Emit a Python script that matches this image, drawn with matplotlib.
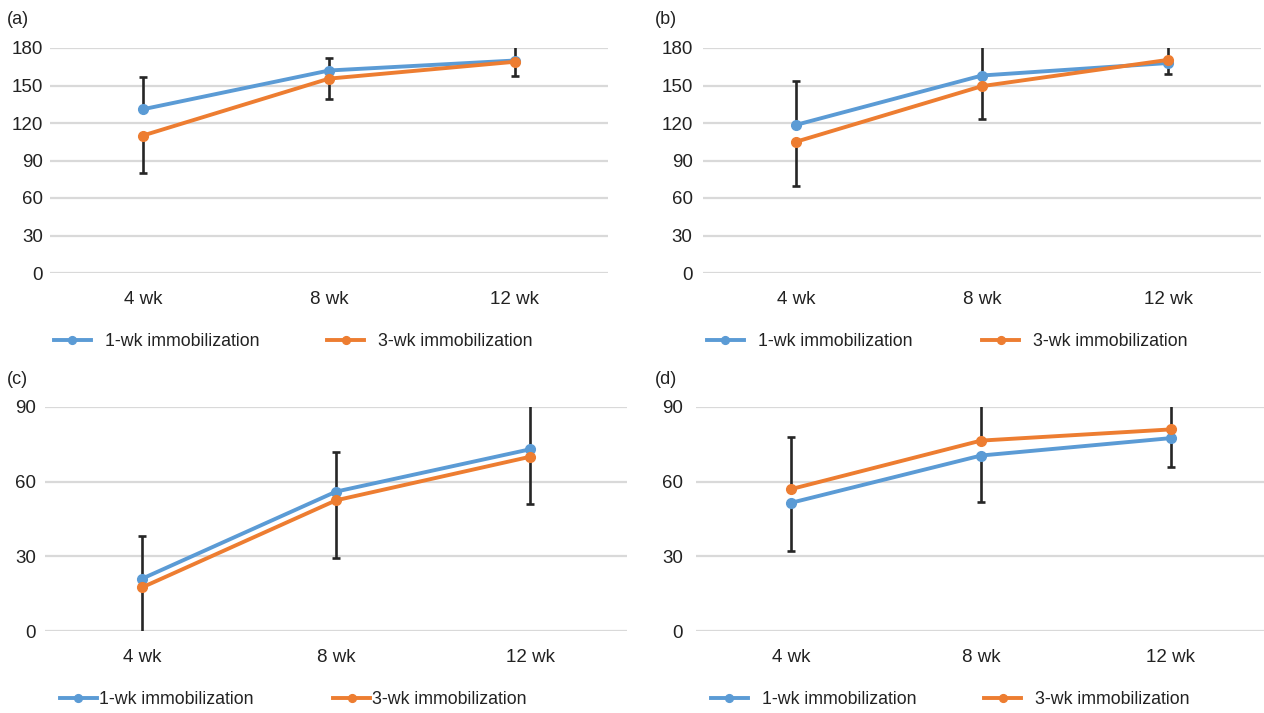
import numpy as np
import matplotlib
matplotlib.use('Agg')
import matplotlib.pyplot as plt

# 数据
weeks = ['4 wk', '8 wk', '12 wk']
series_names = ['1-wk immobilization', '3-wk immobilization']
panel_tags = ['(a)', '(b)', '(c)', '(d)']

# (a)
a_1wk = [131, 162, 170]
a_3wk = [110, 155.5, 169]
a_1wk_up = [26, 10, 12]
a_3wk_dn = [30, 16.5, 11]
# (b)
b_1wk = [118.5, 158, 168]
b_3wk = [105, 149.5, 170.5]
b_1wk_up = [35, 25, 14]
b_3wk_dn = [35, 26.5, 11.5]
# (c)
c_1wk = [21, 56, 73]
c_3wk = [17.5, 52.5, 70]
c_1wk_up = [17, 16, 20]
c_3wk_dn = [20, 23, 19]
# (d)  这里上误差在3-wk上, 下误差在1-wk上
d_1wk = [51.5, 70.5, 77.5]
d_3wk = [57, 76.5, 81]
d_3wk_up = [21, 16, 12]
d_1wk_dn = [19.5, 18.5, 11.5]

y_ticks_top = [0, 30, 60, 90, 120, 150, 180]
y_ticks_bot = [0, 30, 60, 90]

blue = '#5B9BD5'
orange = '#ED7D31'
err_col = '#262626'
grid_col = '#D9D9D9'
txt_col = '#222222'

plt.rcParams['font.family'] = ['Liberation Sans', 'DejaVu Sans']
plt.rcParams['font.size'] = 13

fig = plt.figure(figsize=(12.64, 7.13), dpi=100)
W, H = 1264, 713


def px_axes(x0, x1, y_top, y_bot):
    # 像素坐标 -> 图坐标
    return fig.add_axes([x0 / W, 1 - y_bot / H, (x1 - x0) / W, (y_bot - y_top) / H])


axes = [px_axes(50, 608, 48, 273), px_axes(703, 1261, 48, 273),
        px_axes(45, 627, 407, 631), px_axes(696, 1266, 407, 631)]
ypads = [5, 7.5, 6.5, 9.5]

panels = [
    (a_1wk, a_3wk, a_1wk_up, a_3wk_dn, 'blue_up', y_ticks_top),
    (b_1wk, b_3wk, b_1wk_up, b_3wk_dn, 'blue_up', y_ticks_top),
    (c_1wk, c_3wk, c_1wk_up, c_3wk_dn, 'blue_up', y_ticks_bot),
    (d_1wk, d_3wk, d_3wk_up, d_1wk_dn, 'orange_up', y_ticks_bot),
]

x = np.arange(len(weeks))
for ax, ypad, (s1, s3, e_up, e_dn, mode, yt) in zip(axes, ypads, panels):
    zero = np.zeros(len(weeks))
    if mode == 'blue_up':
        err1 = [zero, e_up]
        err3 = [e_dn, zero]
    else:
        err1 = [e_dn, zero]
        err3 = [zero, e_up]
    ax.errorbar(x, s1, yerr=err1, fmt='none', ecolor=err_col, elinewidth=1.9,
                capsize=2.9, capthick=1.9, zorder=2)
    ax.errorbar(x, s3, yerr=err3, fmt='none', ecolor=err_col, elinewidth=1.9,
                capsize=2.9, capthick=1.9, zorder=2)
    ax.plot(x, s1, '-o', color=blue, lw=2.8, ms=7, label=series_names[0], zorder=3)
    ax.plot(x, s3, '-o', color=orange, lw=2.8, ms=7, label=series_names[1], zorder=4)

    ax.set_xlim(-0.5, 2.5)
    ax.set_ylim(yt[0], yt[-1])
    ax.set_yticks(yt)
    ax.set_xticks(x)
    ax.set_xticklabels(weeks)
    ax.grid(axis='y', color=grid_col, lw=1.6)
    ax.set_axisbelow(True)
    for sp in ax.spines.values():
        sp.set_visible(False)
    ax.tick_params(axis='both', length=0, labelsize=13.5, colors=txt_col)
    ax.tick_params(axis='x', pad=13)
    ax.tick_params(axis='y', pad=ypad)

# 面板编号
for tag, (tx, ty) in zip(panel_tags, [(7, 20), (655, 20), (7, 380), (655, 380)]):
    fig.text(tx / W, 1 - ty / H, tag, ha='left', va='center', fontsize=13, color=txt_col)

# 图例
leg_pos = [(54, 342, 0.8, 3.8), (707, 342, 0.8, 3.9), (60, 700, 0.1, 4.5), (711, 700, 0.8, 3.8)]
for ax, (lx, ly, tp, cs) in zip(axes, leg_pos):
    h, l = ax.get_legend_handles_labels()
    fig.legend(h, l, loc='center left', bbox_to_anchor=(lx / W, 1 - ly / H), ncol=2,
               frameon=False, borderaxespad=0, borderpad=0, handlelength=2.08,
               handletextpad=tp, columnspacing=cs, fontsize=12.8, labelcolor=txt_col,
               markerscale=0.8)

fig.savefig('out.png', dpi=100)
